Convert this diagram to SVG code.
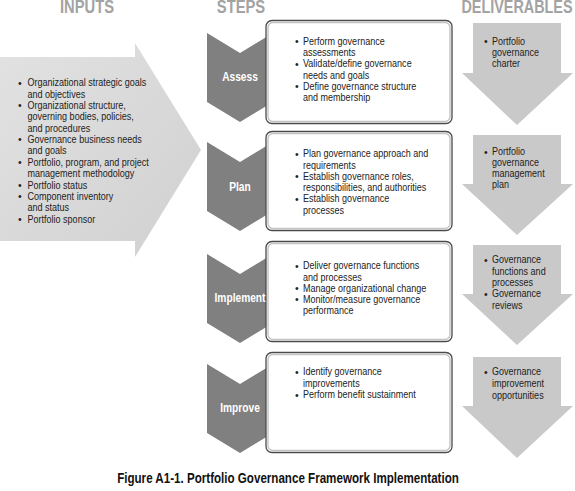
<svg xmlns="http://www.w3.org/2000/svg" width="575" height="491" viewBox="0 0 575 491">
<defs>
<linearGradient id="gIn" x1="0" y1="0" x2="1" y2="1">
<stop offset="0" stop-color="#e2e2e2"/>
<stop offset="1" stop-color="#d0d0d0"/>
</linearGradient>
<style>
text{font-family:"Liberation Sans","Arial",sans-serif}
.hdr{font-weight:bold;font-size:18px;fill:#a3a3a3;text-anchor:middle}
.t{font-size:10.5px;fill:#222}
.step{font-weight:bold;font-size:12px;fill:#fff;text-anchor:middle}
.cap{font-weight:bold;font-size:14.5px;fill:#111;text-anchor:middle}
.chev{fill:#808080}
.deliv{fill:#c9c9c9}
.box{fill:#fff;stroke:#4a4a4a;stroke-width:1.3}
.boxin{fill:none;stroke:#c4c4c4;stroke-width:1.4}
</style>
</defs>

<g id="headers">
<text class="hdr" transform="translate(87 13) scale(0.82 1)">INPUTS</text>
<text class="hdr" transform="translate(241 13) scale(0.82 1)">STEPS</text>
<text class="hdr" transform="translate(517 13) scale(0.8 1)">DELIVERABLES</text>
</g>

<g id="inputs">
<polygon points="0,57 135,57 135,43 201,150 135,257 135,241 0,241" fill="url(#gIn)"/>
<text class="t"><tspan x="18" y="86.5">•</tspan><tspan x="18" y="108.8">•</tspan><tspan x="18" y="143">•</tspan><tspan x="18" y="165.8">•</tspan><tspan x="18" y="188.6">•</tspan><tspan x="18" y="200">•</tspan><tspan x="18" y="222.8">•</tspan></text>
<text class="t" transform="translate(27.5 0) scale(0.86 1)">
<tspan x="0" y="86.5">Organizational strategic goals</tspan>
<tspan x="0" y="97.9">and objectives</tspan>
<tspan x="0" y="108.8">Organizational structure,</tspan>
<tspan x="0" y="120.2">governing bodies, policies,</tspan>
<tspan x="0" y="131.6">and procedures</tspan>
<tspan x="0" y="143">Governance business needs</tspan>
<tspan x="0" y="154.4">and goals</tspan>
<tspan x="0" y="165.8">Portfolio, program, and project</tspan>
<tspan x="0" y="177.2">management methodology</tspan>
<tspan x="0" y="188.6">Portfolio status</tspan>
<tspan x="0" y="200">Component inventory</tspan>
<tspan x="0" y="211.4">and status</tspan>
<tspan x="0" y="222.8">Portfolio sponsor</tspan>
</text>
</g>

<g id="assess">
<polygon class="chev" points="207,33 240,53 273,33 273,102 240,122 207,102"/>
<rect class="box" x="266" y="20.5" width="186" height="103" rx="6"/>
<rect class="boxin" x="268" y="22.5" width="182" height="99" rx="5"/>
<text class="step" transform="translate(240 81) scale(0.85 1)">Assess</text>
<text class="t"><tspan x="295" y="45">•</tspan><tspan x="295" y="67.5">•</tspan><tspan x="295" y="90">•</tspan></text>
<text class="t" transform="translate(303 0) scale(0.86 1)">
<tspan x="0" y="45">Perform governance</tspan>
<tspan x="0" y="56.2">assessments</tspan>
<tspan x="0" y="67.5">Validate/define governance</tspan>
<tspan x="0" y="78.7">needs and goals</tspan>
<tspan x="0" y="90">Define governance structure</tspan>
<tspan x="0" y="101.2">and membership</tspan>
</text>
</g>

<g id="plan">
<polygon class="chev" points="207,142 240,162 273,142 273,211 240,231 207,211"/>
<rect class="box" x="266" y="131.5" width="186" height="99" rx="6"/>
<rect class="boxin" x="268" y="133.5" width="182" height="95" rx="5"/>
<text class="step" transform="translate(240 191) scale(0.85 1)">Plan</text>
<text class="t"><tspan x="295" y="157.5">•</tspan><tspan x="295" y="180">•</tspan><tspan x="295" y="202.5">•</tspan></text>
<text class="t" transform="translate(303 0) scale(0.86 1)">
<tspan x="0" y="157.5">Plan governance approach and</tspan>
<tspan x="0" y="168.7">requirements</tspan>
<tspan x="0" y="180">Establish governance roles,</tspan>
<tspan x="0" y="191.2">responsibilities, and authorities</tspan>
<tspan x="0" y="202.5">Establish governance</tspan>
<tspan x="0" y="213.7">processes</tspan>
</text>
</g>

<g id="implement">
<polygon class="chev" points="207,254 240,274 273,254 273,323 240,343 207,323"/>
<rect class="box" x="266" y="241.5" width="186" height="100" rx="6"/>
<rect class="boxin" x="268" y="243.5" width="182" height="96" rx="5"/>
<text class="step" transform="translate(240 302) scale(0.85 1)">Implement</text>
<text class="t"><tspan x="295" y="269.5">•</tspan><tspan x="295" y="292">•</tspan><tspan x="295" y="303.3">•</tspan></text>
<text class="t" transform="translate(303 0) scale(0.86 1)">
<tspan x="0" y="269.5">Deliver  governance functions</tspan>
<tspan x="0" y="280.8">and processes</tspan>
<tspan x="0" y="292">Manage organizational change</tspan>
<tspan x="0" y="303.3">Monitor/measure governance</tspan>
<tspan x="0" y="314.5">performance</tspan>
</text>
</g>

<g id="improve">
<polygon class="chev" points="207,364 240,384 273,364 273,433 240,453 207,433"/>
<rect class="box" x="266" y="352.5" width="186" height="100" rx="6"/>
<rect class="boxin" x="268" y="354.5" width="182" height="96" rx="5"/>
<text class="step" transform="translate(240 412) scale(0.85 1)">Improve</text>
<text class="t"><tspan x="295" y="375.5">•</tspan><tspan x="295" y="398.5">•</tspan></text>
<text class="t" transform="translate(303 0) scale(0.86 1)">
<tspan x="0" y="375.5">Identify governance</tspan>
<tspan x="0" y="387">improvements</tspan>
<tspan x="0" y="398.5">Perform benefit sustainment</tspan>
</text>
</g>

<g id="deliv-assess">
<polygon class="deliv" points="473,23 561,23 561,73 573,73 517,125 462,73 473,73"/>
<text class="t"><tspan x="484" y="45">•</tspan></text>
<text class="t" transform="translate(492 0) scale(0.86 1)"><tspan x="0" y="45">Portfolio</tspan><tspan x="0" y="56">governance</tspan><tspan x="0" y="67">charter</tspan></text>
</g>

<g id="deliv-plan">
<polygon class="deliv" points="473,135 561,135 561,184 573,184 517,235 462,184 473,184"/>
<text class="t"><tspan x="484" y="155.5">•</tspan></text>
<text class="t" transform="translate(492 0) scale(0.86 1)"><tspan x="0" y="155.5">Portfolio</tspan><tspan x="0" y="166.5">governance</tspan><tspan x="0" y="177.5">management</tspan><tspan x="0" y="188.5">plan</tspan></text>
</g>

<g id="deliv-implement">
<polygon class="deliv" points="473,245 561,245 561,294 573,294 517,345 462,294 473,294"/>
<text class="t"><tspan x="484" y="263.5">•</tspan><tspan x="484" y="297.5">•</tspan></text>
<text class="t" transform="translate(492 0) scale(0.86 1)"><tspan x="0" y="263.5">Governance</tspan><tspan x="0" y="275">functions and</tspan><tspan x="0" y="286">processes</tspan><tspan x="0" y="297.5">Governance</tspan><tspan x="0" y="309">reviews</tspan></text>
</g>

<g id="deliv-improve">
<polygon class="deliv" points="473,357 561,357 561,406 573,406 517,458 462,406 473,406"/>
<text class="t"><tspan x="484" y="375.5">•</tspan></text>
<text class="t" transform="translate(492 0) scale(0.86 1)"><tspan x="0" y="375.5">Governance</tspan><tspan x="0" y="387.5">improvement</tspan><tspan x="0" y="399">opportunities</tspan></text>
</g>

<g id="connectors"></g>

<text class="cap" transform="translate(288 483) scale(0.8 1)">Figure A1-1. Portfolio Governance Framework Implementation</text>
</svg>
